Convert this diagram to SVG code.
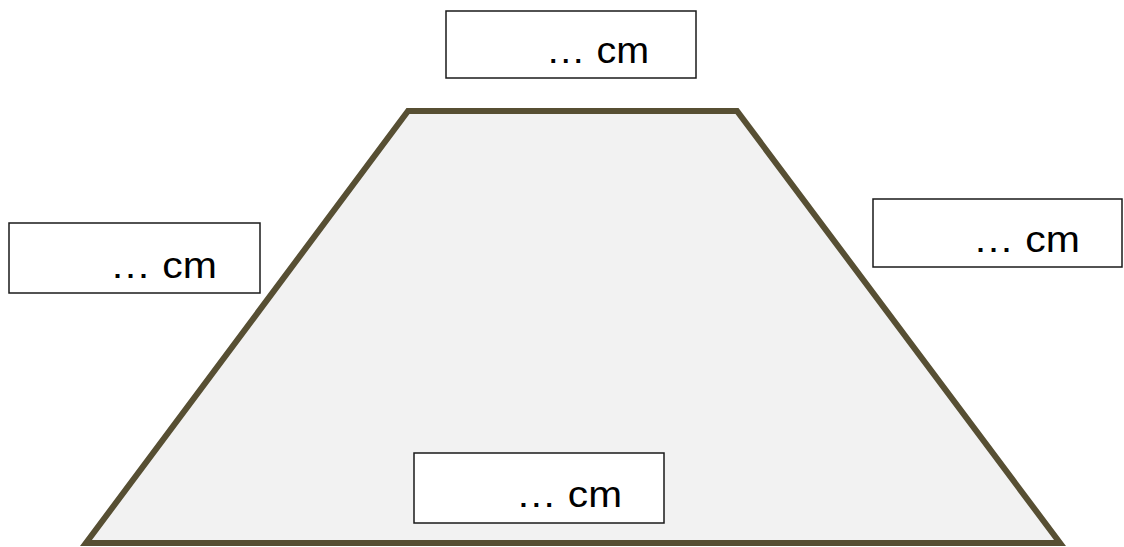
<svg xmlns="http://www.w3.org/2000/svg" width="1124" height="547" viewBox="0 0 1124 547">
<style>
.box{fill:#ffffff;stroke:#1a1a1a;stroke-width:1.5}
.lbl{font-family:"Liberation Sans",Arial,sans-serif;font-size:36px;fill:#000}
</style>
<rect width="1124" height="547" fill="#ffffff"/>
<g id="trapezoid">
<polygon points="408,111 737,111 1060,543 86,543" fill="#f2f2f2" stroke="#574f33" stroke-width="6" stroke-linejoin="miter"/>
</g>
<g id="connectors"></g>
<g id="label-top">
<rect class="box" x="446" y="11" width="250" height="67"/>
<text class="lbl" x="546" y="63" textLength="103" lengthAdjust="spacingAndGlyphs">… cm</text>
</g>
<g id="label-left">
<rect class="box" x="9" y="223" width="251" height="70"/>
<text class="lbl" x="110" y="278" textLength="107" lengthAdjust="spacingAndGlyphs">… cm</text>
</g>
<g id="label-right">
<rect class="box" x="873" y="199" width="249" height="68"/>
<text class="lbl" x="973" y="252" textLength="107" lengthAdjust="spacingAndGlyphs">… cm</text>
</g>
<g id="label-bottom">
<rect class="box" x="414" y="453" width="250" height="70"/>
<text class="lbl" x="516" y="507" textLength="106" lengthAdjust="spacingAndGlyphs">… cm</text>
</g>
</svg>
